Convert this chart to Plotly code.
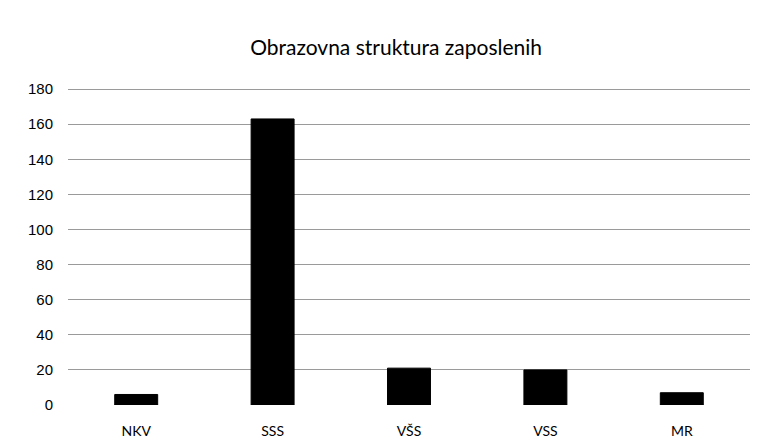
import plotly.graph_objects as go

categories = ["NKV", "SSS", "VŠS", "VSS", "MR"]
values = [6, 163, 21, 20, 7]
title_text = "Obrazovna struktura zaposlenih"

fig = go.Figure(go.Bar(x=categories, y=values, marker=dict(color="black", line=dict(color="black", width=1))))

# page body has an 8px margin, so the figure is 8px smaller and margins shifted
fig.update_layout(
    width=761, height=439,
    margin=dict(l=60, r=19, t=79, b=42),
    paper_bgcolor="white", plot_bgcolor="white",
    bargap=0.685,
    showlegend=False,
    title=dict(text=title_text, x=0.51, xanchor="center", y=0.91, yanchor="middle",
               font=dict(family="Lato", size=21, color="black")),
    font=dict(family="Lato", size=14, color="black"),
)
fig.update_yaxes(range=[0, 181.2], tickvals=[0, 20, 40, 60, 80, 100, 120, 140, 160, 180],
                 showgrid=True, gridcolor="#9a9a9a", gridwidth=1, automargin=False,
                 zeroline=False, showline=False, ticks="", ticklabelstandoff=14,
                 tickfont=dict(family="Liberation Sans", size=15, color="black"))
fig.update_xaxes(showgrid=False, showline=False, ticks="", ticklabelstandoff=16, automargin=False,
                 tickfont=dict(family="Lato", size=14, color="black"))

fig.write_html("out.html")
